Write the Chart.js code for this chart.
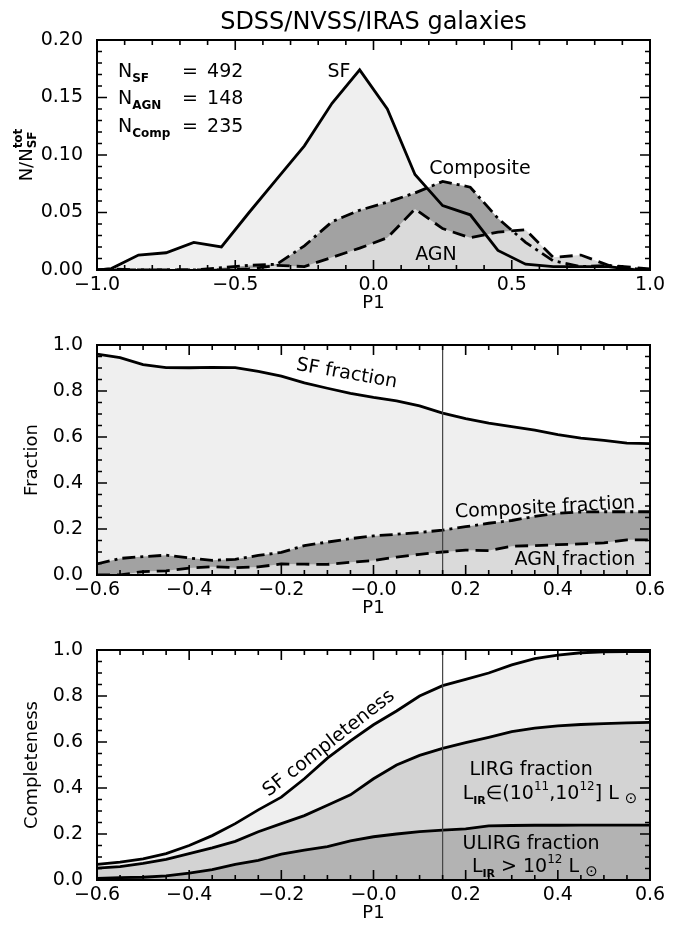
<!DOCTYPE html>
<html>
<head>
<meta charset="utf-8">
<script src="https://cdn.jsdelivr.net/npm/chart.js@4.4.0/dist/chart.umd.min.js"></script>
<style>
html, body { margin: 0; padding: 0; background: #fff; }
#wrap { position: relative; width: 678px; height: 932px; }
.panel { position: absolute; left: 0; width: 678px; }
</style>
</head>
<body>
<div id="wrap">
  <div class="panel" style="top:0;height:312px"><canvas id="c1"></canvas></div>
  <div class="panel" style="top:312px;height:303px"><canvas id="c2"></canvas></div>
  <div class="panel" style="top:615px;height:317px"><canvas id="c3"></canvas></div>
</div>
<script>
const FONT = '"DejaVu Sans", sans-serif';

// top panel: P1 histograms normalised to N_SF^tot
const histBins = [-1.0, -0.95, -0.85, -0.75, -0.65, -0.55, -0.45, -0.35, -0.25, -0.15, -0.05,
                  0.05, 0.15, 0.25, 0.35, 0.45, 0.55, 0.65, 0.75, 0.85, 0.95, 1.0];
const histSF   = [0, 0.001, 0.013, 0.015, 0.024, 0.020, 0.050, 0.079, 0.108, 0.145, 0.174,
                  0.140, 0.083, 0.056, 0.048, 0.017, 0.005, 0.003, 0.003, 0.003, 0.000, 0.000];
const histComp = [0, 0, 0, 0, 0, 0.002, 0.004, 0.005, 0.021, 0.042, 0.052,
                  0.059, 0.067, 0.077, 0.072, 0.045, 0.024, 0.008, 0.003, 0.004, 0.001, 0];
const histAGN  = [0, 0.001, 0, 0, 0, 0, 0.001, 0.004, 0.003, 0.011, 0.019,
                  0.028, 0.053, 0.036, 0.028, 0.033, 0.035, 0.011, 0.013, 0.004, 0.002, 0.001];
const nLabels = ['SF', 'AGN', 'Comp'];
const nValues = [492, 148, 235];
const histXTicks = ['\u22121.0', '\u22120.5', '0.0', '0.5', '1.0'];
const histYTicks = ['0.00', '0.05', '0.10', '0.15', '0.20'];

// middle and bottom panels share the P1 grid
const p1Grid = [-0.60, -0.55, -0.50, -0.45, -0.40, -0.35, -0.30, -0.25, -0.20, -0.15, -0.10, -0.05,
                0.00, 0.05, 0.10, 0.15, 0.20, 0.25, 0.30, 0.35, 0.40, 0.45, 0.50, 0.55, 0.60];
const fracSF   = [0.960, 0.945, 0.915, 0.902, 0.901, 0.903, 0.902, 0.885, 0.865, 0.835, 0.812, 0.790,
                  0.772, 0.757, 0.735, 0.704, 0.680, 0.660, 0.645, 0.630, 0.610, 0.595, 0.585, 0.573, 0.571];
const fracComp = [0.048, 0.072, 0.080, 0.086, 0.074, 0.064, 0.068, 0.085, 0.098, 0.128, 0.143, 0.158,
                  0.170, 0.177, 0.185, 0.195, 0.210, 0.225, 0.237, 0.255, 0.268, 0.274, 0.275, 0.275, 0.275];
const fracAGN  = [0.000, 0.000, 0.015, 0.018, 0.030, 0.036, 0.032, 0.035, 0.048, 0.047, 0.046, 0.055,
                  0.063, 0.078, 0.090, 0.100, 0.108, 0.106, 0.125, 0.128, 0.132, 0.135, 0.140, 0.153, 0.153];

const complSF    = [0.068, 0.078, 0.092, 0.115, 0.150, 0.193, 0.245, 0.305, 0.360, 0.440, 0.530, 0.605,
                    0.675, 0.735, 0.800, 0.845, 0.872, 0.900, 0.935, 0.962, 0.978, 0.988, 0.992, 0.993, 0.993];
const complLIRG  = [0.052, 0.058, 0.072, 0.090, 0.115, 0.140, 0.168, 0.210, 0.245, 0.280, 0.325, 0.370,
                    0.440, 0.500, 0.542, 0.572, 0.597, 0.620, 0.645, 0.660, 0.670, 0.676, 0.680, 0.683, 0.685];
const complULIRG = [0.007, 0.010, 0.012, 0.018, 0.030, 0.045, 0.068, 0.085, 0.112, 0.130, 0.145, 0.170,
                    0.188, 0.200, 0.210, 0.217, 0.222, 0.235, 0.237, 0.238, 0.238, 0.239, 0.239, 0.239, 0.239];

const fracXTicks = ['\u22120.6', '\u22120.4', '\u22120.2', '\u22120.0', '0.2', '0.4', '0.6'];
const fracYTicks = ['0.0', '0.2', '0.4', '0.6', '0.8', '1.0'];
const cutP1 = 0.15;

const shade = { sf: '#efefef', comp: '#a2a2a2', agn: '#dadada', lirg: '#d3d3d3', ulirg: '#b3b3b3' };

const pts = (xs, ys) => xs.map((x, i) => ({ x: x, y: ys[i] }));

function curve(data, fillColor, dash) {
    return {
        data: data,
        borderColor: '#000',
        borderWidth: 2.8,
        borderDash: dash || [],
        backgroundColor: fillColor || 'transparent',
        fill: fillColor ? 'origin' : false,
        pointRadius: 0,
        tension: 0
    };
}

function cutLine(top) {
    return {
        data: [{ x: cutP1, y: 0 }, { x: cutP1, y: top }],
        borderColor: '#444',
        borderWidth: 1.2,
        fill: false,
        pointRadius: 0
    };
}

// rich text: parts of {t, s, b, dy} or stacked {sub, sup}
function drawRich(ctx, parts, x, y, align, rot) {
    const base = parts[0].s || 19;
    const fontOf = p => (p.b ? 'bold ' : '') + (p.s || 19) + 'px ' + FONT;
    ctx.save();
    ctx.translate(x, y);
    ctx.rotate((rot || 0) * Math.PI / 180);
    ctx.textAlign = 'left';
    ctx.textBaseline = 'alphabetic';
    const widths = parts.map(p => {
        ctx.font = fontOf(p);
        if (p.sub !== undefined) {
            return Math.max(ctx.measureText(p.sub).width, ctx.measureText(p.sup).width);
        }
        return ctx.measureText(p.t).width;
    });
    const total = widths.reduce((a, b) => a + b, 0);
    let cx = align === 'center' ? -total / 2 : (align === 'right' ? -total : 0);
    const by = 0.36 * base;
    parts.forEach((p, i) => {
        ctx.font = fontOf(p);
        if (p.sub !== undefined) {
            ctx.fillText(p.sub, cx, by + 4);
            ctx.fillText(p.sup, cx, by - 10);
        } else {
            ctx.fillText(p.t, cx, by + (p.dy || 0));
        }
        cx += widths[i];
    });
    ctx.restore();
}

function tickMarks(scale, minor, major, fn) {
    const n = Math.round((scale.max - scale.min) / minor);
    const every = Math.round(major / minor);
    for (let i = 0; i <= n; i++) {
        fn(scale.getPixelForValue(scale.min + i * minor), i % every === 0 ? 10 : 5);
    }
}

const idlPlugin = {
    id: 'idl',
    afterDraw(chart, args, o) {
        const ctx = chart.ctx;
        const a = chart.chartArea;
        const xs = chart.scales.x, ys = chart.scales.y;
        ctx.save();
        ctx.strokeStyle = '#000';
        ctx.lineWidth = 1.6;
        ctx.beginPath();
        tickMarks(xs, o.xMinor, o.xMajor, (p, len) => {
            ctx.moveTo(p, a.bottom); ctx.lineTo(p, a.bottom - len);
            ctx.moveTo(p, a.top); ctx.lineTo(p, a.top + len);
        });
        tickMarks(ys, o.yMinor, o.yMajor, (p, len) => {
            ctx.moveTo(a.left, p); ctx.lineTo(a.left + len, p);
            ctx.moveTo(a.right, p); ctx.lineTo(a.right - len, p);
        });
        ctx.stroke();
        ctx.lineWidth = 2;
        ctx.strokeRect(a.left, a.top, a.right - a.left, a.bottom - a.top);

        ctx.fillStyle = '#000';
        o.texts.forEach(t => {
            drawRich(ctx, t.parts, xs.getPixelForValue(t.x), ys.getPixelForValue(t.y), t.align || 'center', t.rot);
        });
        drawRich(ctx, o.yTitle, o.yTitleX, (a.top + a.bottom) / 2, 'center', -90);
        drawRich(ctx, [{ t: 'P1', s: 18 }], (a.left + a.right) / 2, a.bottom + 32, 'center', 0);
        if (o.title) drawRich(ctx, [{ t: o.title, s: 24 }], (a.left + a.right) / 2, 20, 'center', 0);
        ctx.restore();
    }
};

function axis(min, max, step, labels, fit) {
    return {
        type: 'linear',
        min: min,
        max: max,
        grid: { display: false, drawTicks: false },
        border: { display: false },
        ticks: {
            stepSize: step,
            autoSkip: false,
            maxRotation: 0,
            padding: fit.pad,
            color: '#000',
            font: { family: FONT, size: 19 },
            callback: v => labels[Math.round((v - min) / step)]
        },
        afterFit: s => {
            if (fit.w) s.width = fit.w;
            if (fit.h) s.height = fit.h;
        }
    };
}

function makeChart(id, cfg) {
    return new Chart(document.getElementById(id), {
        type: 'line',
        data: { datasets: cfg.datasets },
        options: {
            responsive: true,
            maintainAspectRatio: false,
            animation: false,
            layout: { padding: { top: cfg.top, right: 28, left: 0, bottom: 0 } },
            plugins: {
                legend: { display: false },
                tooltip: { enabled: false },
                filler: { drawTime: 'beforeDatasetsDraw' },
                idl: cfg.idl
            },
            scales: { x: cfg.x, y: cfg.y }
        },
        plugins: [idlPlugin]
    });
}

const dashed = [13, 7];
const dashDot = [13, 5, 3, 5];

const nRows = nLabels.map((lab, i) => [
    { x: -0.924, y: 0.174 - i * 0.024, align: 'left', parts: [{ t: 'N' }, { t: lab, s: 12, b: true, dy: 5 }] },
    { x: -0.693, y: 0.174 - i * 0.024, align: 'left', parts: [{ t: '=' }] },
    { x: -0.602, y: 0.174 - i * 0.024, align: 'left', parts: [{ t: String(nValues[i]) }] }
]).flat();

makeChart('c1', {
    top: 40,
    datasets: [
        curve(pts(histBins, histAGN), shade.agn, dashed),
        curve(pts(histBins, histComp), shade.comp, dashDot),
        curve(pts(histBins, histSF), shade.sf)
    ],
    x: axis(-1, 1, 0.5, histXTicks, { h: 42, pad: 4 }),
    y: axis(0, 0.2, 0.05, histYTicks, { w: 97, pad: 14 }),
    idl: {
        xMinor: 0.1, xMajor: 0.5, yMinor: 0.01, yMajor: 0.05,
        title: 'SDSS/NVSS/IRAS galaxies',
        yTitleX: 26,
        yTitle: [{ t: 'N/N', s: 18 }, { sub: 'SF', sup: 'tot', s: 12, b: true }],
        texts: nRows.concat([
            { x: -0.125, y: 0.174, parts: [{ t: 'SF' }] },
            { x: 0.385, y: 0.0896, parts: [{ t: 'Composite' }] },
            { x: 0.226, y: 0.0148, parts: [{ t: 'AGN' }] }
        ])
    }
});

makeChart('c2', {
    top: 33,
    datasets: [
        cutLine(1),
        curve(pts(p1Grid, fracAGN), shade.agn, dashed),
        curve(pts(p1Grid, fracComp), shade.comp, dashDot),
        curve(pts(p1Grid, fracSF), shade.sf)
    ],
    x: axis(-0.6, 0.6, 0.2, fracXTicks, { h: 40, pad: 4 }),
    y: axis(0, 1, 0.2, fracYTicks, { w: 97, pad: 14 }),
    idl: {
        xMinor: 0.05, xMajor: 0.2, yMinor: 0.05, yMajor: 0.2,
        yTitleX: 31,
        yTitle: [{ t: 'Fraction', s: 18 }],
        texts: [
            { x: -0.0575, y: 0.883, rot: 10, parts: [{ t: 'SF fraction' }] },
            { x: 0.372, y: 0.30, rot: -3, parts: [{ t: 'Composite fraction' }] },
            { x: 0.437, y: 0.074, parts: [{ t: 'AGN fraction' }] }
        ]
    }
});

makeChart('c3', {
    top: 35,
    datasets: [
        cutLine(1),
        curve(pts(p1Grid, complULIRG), shade.ulirg),
        curve(pts(p1Grid, complLIRG), shade.lirg),
        curve(pts(p1Grid, complSF), shade.sf)
    ],
    x: axis(-0.6, 0.6, 0.2, fracXTicks, { h: 52, pad: 4 }),
    y: axis(0, 1, 0.2, fracYTicks, { w: 97, pad: 14 }),
    idl: {
        xMinor: 0.05, xMajor: 0.2, yMinor: 0.05, yMajor: 0.2,
        yTitleX: 31,
        yTitle: [{ t: 'Completeness', s: 18 }],
        texts: [
            { x: -0.099, y: 0.60, rot: -38, parts: [{ t: 'SF completeness' }] },
            { x: 0.342, y: 0.487, parts: [{ t: 'LIRG fraction' }] },
            { x: 0.383, y: 0.38, parts: [
                { t: 'L' }, { t: 'IR', s: 11, b: true, dy: 5 }, { t: '\u2208(10' }, { t: '11', s: 12, dy: -9 },
                { t: ',10' }, { t: '12', s: 12, dy: -9 }, { t: '] L ' }, { t: '\u2299', s: 15, dy: 4 }
            ] },
            { x: 0.342, y: 0.166, parts: [{ t: 'ULIRG fraction' }] },
            { x: 0.35, y: 0.066, parts: [
                { t: 'L' }, { t: 'IR', s: 11, b: true, dy: 5 }, { t: ' > 10' }, { t: '12', s: 12, dy: -9 },
                { t: ' L ' }, { t: '\u2299', s: 15, dy: 4 }
            ] }
        ]
    }
});
</script>
</body>
</html>
